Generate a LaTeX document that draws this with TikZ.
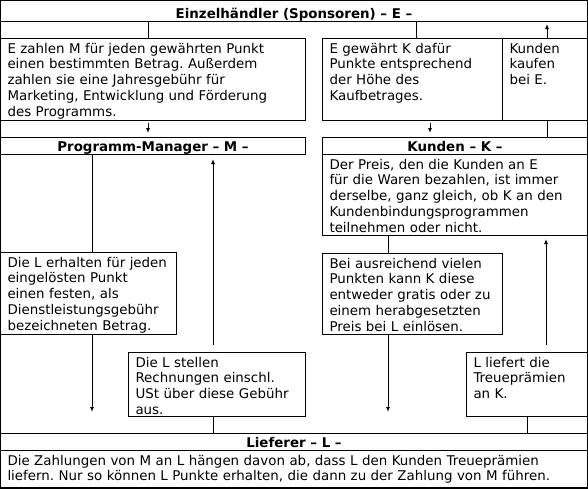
\documentclass[tikz,border=0pt]{standalone}
\usepackage{fontspec}
\setmainfont{DejaVu Sans}
\usetikzlibrary{positioning, calc, arrows.meta}
\frenchspacing
\newcommand\panelfont{\fontsize{13.4}{15.8}\selectfont}
\tikzset{
    headrow/.style 2 args={draw, anchor=north west, font=\panelfont\bfseries, inner sep=0pt, minimum width=#1, text height=#2, text depth=3.5pt},
    panel/.style 2 args={draw, anchor=north west, align=left, font=\panelfont, inner xsep=7pt, inner ysep=0pt, text width=#1, text height=14.5pt, text depth=#2},
    link/.style={shorten <=2pt, shorten >=4pt}
}
\begin{document}
\begin{tikzpicture}[x=1pt, y=-1pt, line width=1pt, >={Latex[length=5pt, width=4pt]}]
	\useasboundingbox (0,0) rectangle (588,488);
	\draw (0.5,0.5) rectangle (587.5,487.5);
	% rows and boxes
	\node(E)[headrow={587pt}{17.5pt}] at (0,0) {Einzelhändler (Sponsoren) – E –};
	\node(EM)[panel={291pt}{67.5pt}] at (0,38) {E zahlen M für jeden gewährten Punkt\\einen bestimmten Betrag. Außerdem\\zahlen sie eine Jahresgebühr für\\Marketing, Entwicklung und Förderung\\des Programms.};
	\node(EK)[panel={166pt}{67.5pt}] at (322,38) {E gewährt K dafür\\Punkte entsprechend\\der Höhe des\\Kaufbetrages.};
	\node(KE)[panel={71pt}{67.5pt}] at (502,38) {Kunden\\kaufen\\bei E.};
	\node(PM)[headrow={305pt}{13.5pt}] at (0,137) {Programm-Manager – M –};
	\node(K)[headrow={265pt}{13.5pt}] at (322,137) {Kunden – K –};
	\node(KP)[panel={251pt}{66.5pt}] at (322,154) {Der Preis, den die Kunden an E\\für die Waren bezahlen, ist immer\\derselbe, ganz gleich, ob K an den\\Kundenbindungsprogrammen\\teilnehmen oder nicht.};
	\node(ML)[panel={162pt}{67.5pt}] at (0,252) {Die L erhalten für jeden\\eingelösten Punkt\\einen festen, als\\Dienstleistungsgebühr\\bezeichneten Betrag.};
	\node(KL)[panel={166pt}{66.5pt}] at (322,253) {Bei ausreichend vielen\\Punkten kann K diese\\entweder gratis oder zu\\einem herabgesetzten\\Preis bei L einlösen.};
	\node(LM)[panel={163pt}{49.5pt}] at (128,352) {Die L stellen\\Rechnungen einschl.\\USt über diese Gebühr\\aus.};
	\node(LK)[panel={107pt}{49.5pt}] at (466,352) {L liefert die\\Treueprämien\\an K.};
	\node(L)[headrow={587pt}{13.5pt}] at (0,433) {Lieferer – L –};
	\node(LN)[panel={573pt}{23.5pt}] at (0,450) {Die Zahlungen von M an L hängen davon ab, dass L den Kunden Treueprämien\\liefern. Nur so können L Punkte erhalten, die dann zu der Zahlung von M führen.};
	% columns for the connectors
	\coordinate(colEM) at (148,0);
	\coordinate(colEK) at (416,0);
	\coordinate(colEKd) at (430,0);
	\coordinate(colKE) at (547,0);
	\coordinate(colML) at (92,0);
	\coordinate(colLM) at (213,0);
	\coordinate(colKL) at (388,0);
	\coordinate(colLK) at (527,0);
	\coordinate(colKP) at (546,0);
	% connectors
	\draw (E.south -| colEM) -- (EM.north -| colEM);
	\draw (E.south -| colEK) -- (EK.north -| colEK);
	\draw[->, shorten >=2pt] (KE.north -| colKE) -- (E.south -| colKE);
	\draw[->, link] (EM.south -| colEM) -- (PM.north -| colEM);
	\draw[->, link] (EK.south -| colEKd) -- (K.north -| colEKd);
	\draw (KE.south -| colKE) -- (K.north -| colKE);
	\draw (PM.south -| colML) -- (ML.north -| colML);
	\draw[->, shorten >=21pt] (ML.south -| colML) -- (L.north -| colML);
	\draw (LM.south -| colLM) -- (L.north -| colLM);
	\draw[->, shorten <=7pt, shorten >=4pt] (LM.north -| colLM) -- (PM.south -| colLM);
	\draw (KP.south -| colKL) -- (KL.north -| colKL);
	\draw[->, shorten >=21pt] (KL.south -| colKL) -- (L.north -| colKL);
	\draw (LK.south -| colLK) -- (L.north -| colLK);
	\draw[->, shorten <=7pt, shorten >=3pt] (LK.north -| colKP) -- (KP.south -| colKP);
\end{tikzpicture}
\end{document}
